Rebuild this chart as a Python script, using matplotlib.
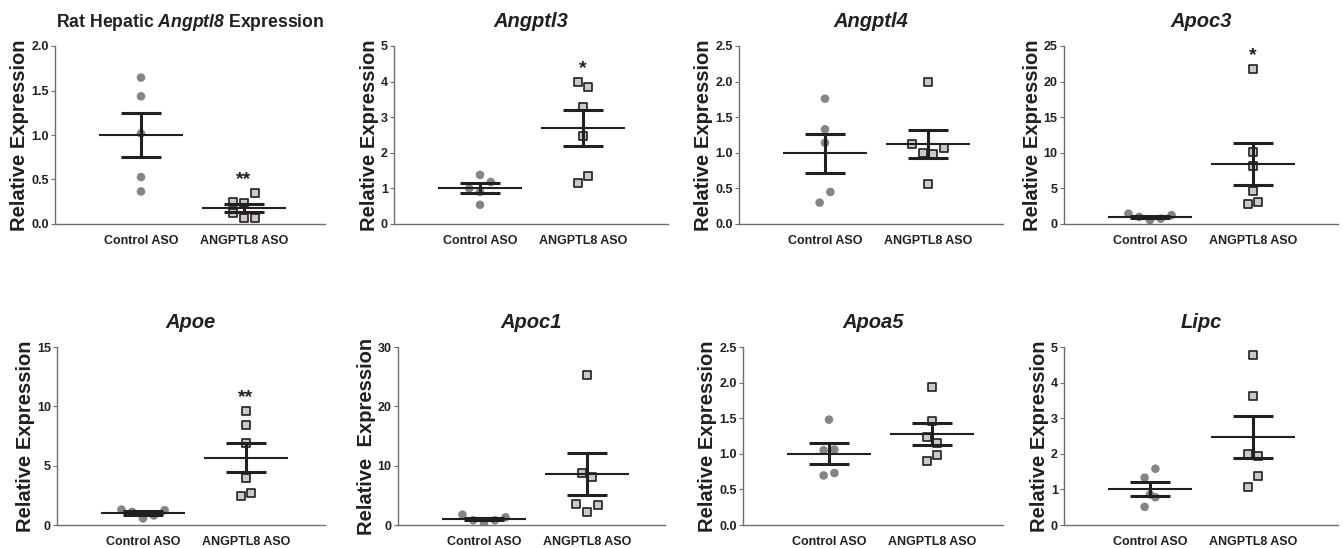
import numpy as np
import matplotlib.pyplot as plt
from matplotlib.ticker import MultipleLocator, FormatStrFormatter

plt.rcParams['font.family'] = 'Liberation Sans'
plt.rcParams['font.weight'] = 'bold'
plt.rcParams['axes.titleweight'] = 'bold'
plt.rcParams['axes.labelweight'] = 'bold'
plt.rcParams['mathtext.fontset'] = 'custom'
plt.rcParams['mathtext.it'] = 'Liberation Sans:italic:bold'
plt.rcParams['mathtext.rm'] = 'Liberation Sans:italic:bold'

groups = ['Control ASO', 'ANGPTL8 ASO']

# relative expression per animal (control, ANGPTL8 ASO)
angptl8_ctrl = [1.645, 1.435, 1.017, 0.527, 0.366]
angptl8_aso = [0.25, 0.24, 0.35, 0.12, 0.07, 0.07]
angptl3_ctrl = [1.38, 1.0, 0.9, 1.18, 0.54]
angptl3_aso = [4.0, 3.84, 3.3, 2.46, 1.15, 1.36]
angptl4_ctrl = [1.76, 1.33, 1.14, 0.30, 0.45]
angptl4_aso = [2.0, 1.117, 1.0, 0.98, 1.07, 0.56]
apoc3_ctrl = [1.45, 1.0, 0.55, 0.75, 1.25]
apoc3_aso = [21.8, 10.05, 8.08, 4.67, 2.8, 3.13]
apoe_ctrl = [1.3, 1.1, 0.55, 0.8, 1.25]
apoe_aso = [9.62, 8.44, 6.87, 3.95, 2.47, 2.72]
apoc1_ctrl = [1.75, 0.8, 0.35, 0.8, 1.3]
apoc1_aso = [25.3, 8.75, 8.08, 3.53, 2.24, 3.42]
apoa5_ctrl = [1.48, 1.05, 1.06, 0.696, 0.73]
apoa5_aso = [1.94, 1.467, 1.238, 1.15, 0.90, 0.98]
lipc_ctrl = [1.33, 1.58, 0.86, 0.51, 0.78]
lipc_aso = [4.77, 3.63, 1.99, 1.93, 1.08, 1.38]

titles = [r'Rat Hepatic $\mathit{Angptl8}$ Expression', 'Angptl3', 'Angptl4', 'Apoc3',
          'Apoe', 'Apoc1', 'Apoa5', 'Lipc']
data = [(angptl8_ctrl, angptl8_aso), (angptl3_ctrl, angptl3_aso),
        (angptl4_ctrl, angptl4_aso), (apoc3_ctrl, apoc3_aso),
        (apoe_ctrl, apoe_aso), (apoc1_ctrl, apoc1_aso),
        (apoa5_ctrl, apoa5_aso), (lipc_ctrl, lipc_aso)]
ymax = [2.0, 5, 2.5, 25, 15, 30, 2.5, 5]
ystep = [0.5, 1, 0.5, 5, 5, 10, 0.5, 1]
stars = ['**', '*', '', '*', '**', '', '', '']

W, H = 1343, 548
# axes boxes in pixels: left, right, top, bottom
boxes = [(55, 325, 46, 224), (394, 668, 46, 224), (739, 1003, 46, 224), (1064, 1338, 46, 224),
         (57, 325, 347, 525), (398, 665, 347, 525), (743, 1003, 347, 525), (1064, 1338, 347, 525)]

dark = '#231f20'
axis_col = '#6d6e71'


def swarm(ax, vals, x0, step_px=10.8, gap_px=11.5):
    # prism-like layout: points close in y share a row and are spread sideways
    vals = np.asarray(vals)
    ypx = ax.transData.transform(np.column_stack([np.full(len(vals), x0), vals]))[:, 1]
    xunit = ax.transData.transform((1, 0))[0] - ax.transData.transform((0, 0))[0]
    rows = []
    for i in np.argsort(ypx, kind='stable'):
        if rows and ypx[i] - ypx[rows[-1][0]] < gap_px:
            rows[-1].append(i)
        else:
            rows.append([i])
    offs = np.zeros(len(vals))
    for row in rows:
        row.sort()
        for k, i in enumerate(row):
            offs[i] = (k - (len(row) - 1) / 2) * step_px / xunit
    return offs


fig = plt.figure(figsize=(W / 100, H / 100), dpi=100)

for n in range(8):
    l, r, t, b = boxes[n]
    ax = fig.add_axes([l / W, 1 - b / H, (r - l) / W, (b - t) / H])
    ax.set_xlim(-86 / 103, (r - l - 86) / 103)
    ax.set_ylim(0, ymax[n])

    ctrl, aso = data[n]
    for j, vals in enumerate([ctrl, aso]):
        xs = j + swarm(ax, vals, j)
        if j == 0:
            ax.scatter(xs, vals, s=38, color='#858585', edgecolors='none', zorder=2)
        else:
            ax.scatter(xs, vals, s=26, marker='s', color='#c9c9c9', edgecolors=dark,
                       linewidths=1.2, zorder=2)
        m = np.mean(vals)
        sem = np.std(vals, ddof=1) / np.sqrt(len(vals))
        ax.hlines(m, j - 0.41, j + 0.41, color=dark, lw=1.5, zorder=3)
        ax.errorbar(j, m, yerr=sem, fmt='none', ecolor=dark, elinewidth=2.2,
                    capsize=14.5, capthick=2.2, zorder=3)

    if stars[n]:
        ax.annotate(stars[n], (1, max(aso)), xytext=(0, 6), textcoords='offset points',
                    ha='center', va='baseline', fontsize=14, fontweight='bold', color=dark)

    ax.set_xticks([0, 1])
    ax.set_xticklabels(groups)
    ax.yaxis.set_major_locator(MultipleLocator(ystep[n]))
    if ystep[n] < 1:
        ax.yaxis.set_major_formatter(FormatStrFormatter('%.1f'))
    ax.tick_params(axis='x', length=0, pad=8, labelsize=9, labelcolor=dark)
    ax.tick_params(axis='y', length=3, width=0.8, color=axis_col, pad=1.5,
                   labelsize=9, labelcolor=dark)
    for side in ['top', 'right']:
        ax.spines[side].set_visible(False)
    for side in ['left', 'bottom']:
        ax.spines[side].set_color(axis_col)
        ax.spines[side].set_linewidth(1.0)

    label = 'Relative  Expression' if n == 5 else 'Relative Expression'
    ax.set_ylabel(label, fontsize=14.5, fontweight='bold', labelpad=1.5, color=dark)
    if n == 0:
        ax.set_title(titles[n], fontsize=12.7, fontweight='bold', pad=14, color=dark)
    else:
        ax.set_title(titles[n], fontsize=14.5, fontweight='bold', pad=14,
                     style='italic', color=dark)

fig.savefig('out.png', dpi=100)
